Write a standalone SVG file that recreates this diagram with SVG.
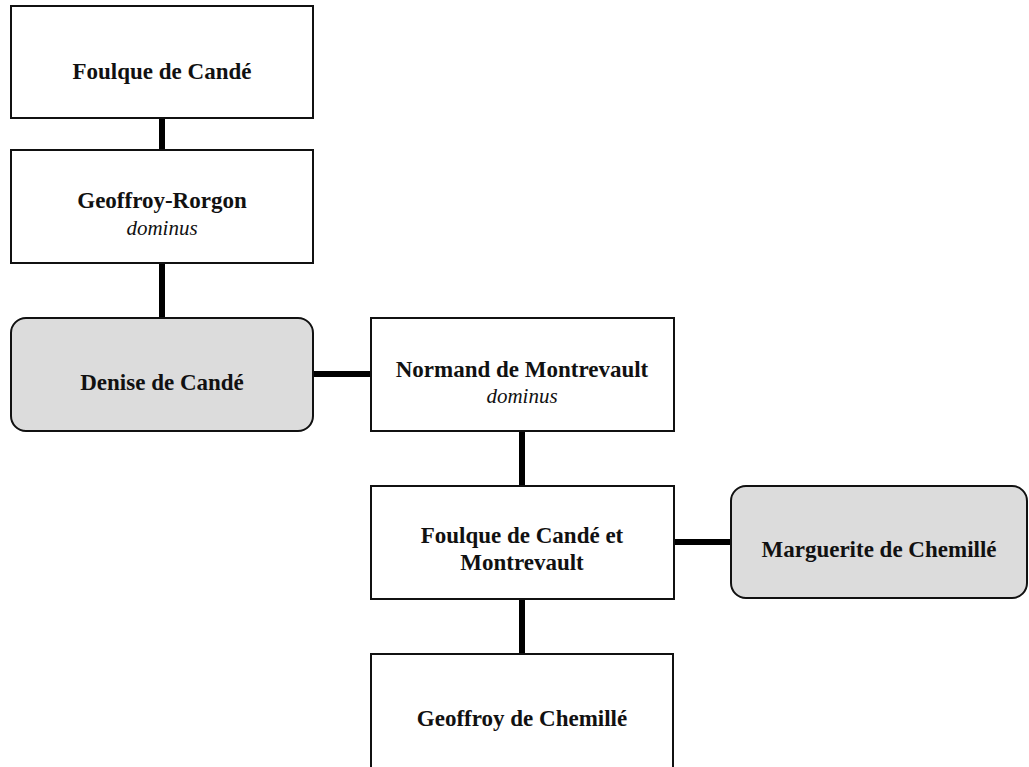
<svg xmlns="http://www.w3.org/2000/svg" width="1029" height="767" viewBox="0 0 1029 767">
<style>
.box{fill:#ffffff;stroke:#111;stroke-width:2}
.spouse{fill:#dcdcdc;stroke:#111;stroke-width:2}
.conn{stroke:#000;stroke-width:6;fill:none}
text{font-family:"Liberation Serif","Times New Roman",serif;fill:#111;text-anchor:middle}
.n{font-size:23px;font-weight:bold}
.t{font-size:21px;font-style:italic}
</style>
<rect width="1029" height="767" fill="#ffffff"/>
<g id="connectors">
<line class="conn" x1="162" y1="118" x2="162" y2="150"/>
<line class="conn" x1="162" y1="263" x2="162" y2="318"/>
<line class="conn" x1="313" y1="374" x2="371" y2="374"/>
<line class="conn" x1="522" y1="431" x2="522" y2="486"/>
<line class="conn" x1="674" y1="542" x2="731" y2="542"/>
<line class="conn" x1="522" y1="599" x2="522" y2="654"/>
</g>
<g id="foulque1">
<rect class="box" x="11" y="6" width="302" height="112"/>
<text class="n" x="162" y="79">Foulque de Candé</text>
</g>
<g id="geoffroy-rorgon">
<rect class="box" x="11" y="150" width="302" height="113"/>
<text class="n" x="162" y="208">Geoffroy-Rorgon</text>
<text class="t" x="162" y="235">dominus</text>
</g>
<g id="denise">
<rect class="spouse" x="11" y="318" width="302" height="113" rx="15" ry="15"/>
<text class="n" x="162" y="390">Denise de Candé</text>
</g>
<g id="normand">
<rect class="box" x="371" y="318" width="303" height="113"/>
<text class="n" x="522" y="377">Normand de Montrevault</text>
<text class="t" x="522" y="403">dominus</text>
</g>
<g id="foulque2">
<rect class="box" x="371" y="486" width="303" height="113"/>
<text class="n" x="522" y="543">Foulque de Candé et</text>
<text class="n" x="522" y="570">Montrevault</text>
</g>
<g id="marguerite">
<rect class="spouse" x="731" y="486" width="296" height="112" rx="15" ry="15"/>
<text class="n" x="879" y="557">Marguerite de Chemillé</text>
</g>
<g id="geoffroy-chemille">
<rect class="box" x="371" y="654" width="302" height="120"/>
<text class="n" x="522" y="726">Geoffroy de Chemillé</text>
</g>
</svg>
